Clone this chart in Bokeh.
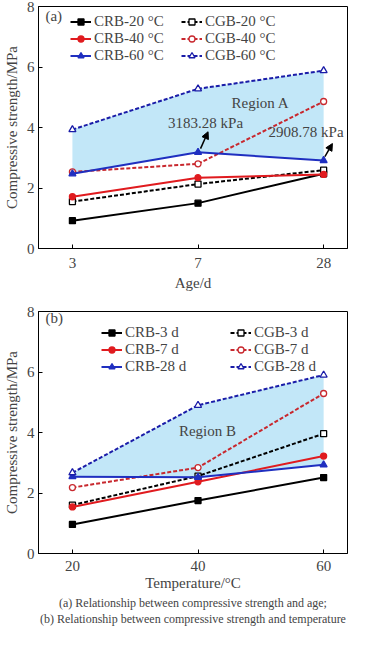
from bokeh.plotting import figure
from bokeh.models import (Legend, LegendItem, Label, Arrow, NormalHead, FixedTicker, Range1d, Title)
from bokeh.layouts import column
from bokeh.embed import file_html
from bokeh.resources import INLINE

# ---------------- data ----------------
ages = ["3", "7", "28"]
crb_20 = [0.92, 1.50, 2.47]
cgb_20 = [1.55, 2.13, 2.59]
crb_40 = [1.71, 2.34, 2.45]
cgb_40 = [2.53, 2.80, 4.86]
crb_60 = [2.47, 3.18, 2.91]
cgb_60 = [3.93, 5.28, 5.88]

temps = ["20", "40", "60"]
crb_3d = [0.96, 1.75, 2.51]
cgb_3d = [1.60, 2.56, 3.96]
crb_7d = [1.54, 2.37, 3.22]
cgb_7d = [2.18, 2.84, 5.29]
crb_28d = [2.54, 2.52, 2.93]
cgb_28d = [2.67, 4.90, 5.90]

yticks = [0, 2, 4, 6, 8]

captions = ["(a) Relationship between compressive strength and age;",
            "(b) Relationship between compressive strength and temperature"]

FONT = "Liberation Serif"
BLACK = "#000000"
RED = "#e01b1f"
RED_D = "#c8282e"
BLUE = "#1f2fc0"
BLUE_D = "#1a1ca8"
FILL = "#c2e7f8"


def make_fig(height, top, bottom, cats, xlabel, lab_standoff, ax_standoff):
    p = figure(width=349, height=height, output_backend="svg", toolbar_location=None,
               x_range=Range1d(-0.27, 2.19), y_range=Range1d(0, 8),
               min_border_left=38, min_border_right=2, min_border_top=top,
               min_border_bottom=bottom)
    p.grid.visible = False
    p.outline_line_color = "black"
    p.outline_line_width = 1
    p.xaxis.ticker = FixedTicker(ticks=[0, 1, 2])
    p.xaxis.major_label_overrides = {i: c for i, c in enumerate(cats)}
    p.yaxis.ticker = FixedTicker(ticks=yticks)
    for ax in (p.xaxis[0], p.yaxis[0]):
        ax.major_tick_in = 4
        ax.major_tick_out = 0
        ax.minor_tick_line_color = None
        ax.major_label_text_font = FONT
        ax.major_label_text_font_size = "15px"
        ax.axis_label_text_font = FONT
        ax.axis_label_text_font_size = "15px"
        ax.axis_label_text_font_style = "normal"
        ax.axis_line_color = "black"
        ax.major_tick_line_color = "black"
    p.xaxis.major_label_standoff = lab_standoff
    p.xaxis.axis_label_standoff = ax_standoff
    p.yaxis.major_label_standoff = 4
    p.yaxis.axis_label_standoff = 4
    p.xaxis.axis_label = xlabel
    p.yaxis.axis_label = "Compressive strength/MPa"
    return p


def add_series(p, x, y, color, marker, filled, dashed):
    lr = p.line(x, y, line_color=color, line_width=2,
                line_dash="4 2" if dashed else "solid")
    sr = p.scatter(x, y, marker=marker, size=7 if marker == "triangle" else 6,
                   line_color=color, line_width=1.3,
                   fill_color=color if filled else "white")
    return [lr, sr]


def add_legends(p, items_left, items_right, xl, xr, ybot, spacing):
    for items, xpos in ((items_left, xl), (items_right, xr)):
        lg = Legend(items=[LegendItem(label=l, renderers=r) for l, r in items],
                    location=(xpos, ybot), orientation="vertical",
                    glyph_width=21, glyph_height=15, label_height=15,
                    label_standoff=3, spacing=spacing, padding=0, margin=0,
                    border_line_alpha=0, background_fill_alpha=0,
                    label_text_font=FONT, label_text_font_size="15px",
                    label_text_baseline="middle")
        p.add_layout(lg, "center")


def txt(p, x, y, s):
    p.add_layout(Label(x=x, y=y, text=s, text_font=FONT, text_font_size="15px",
                       text_baseline="middle", text_align="center"))


xs = [0, 1, 2]

# ---------------- panel (a) ----------------
pa = make_fig(296, 6, 48, ages, "Age/d", 9, 4)
pa.varea(x=xs, y1=crb_60, y2=cgb_60, fill_color=FILL)
r1 = add_series(pa, xs, crb_20, BLACK, "square", True, False)
r2 = add_series(pa, xs, cgb_20, BLACK, "square", False, True)
r3 = add_series(pa, xs, crb_40, RED, "circle", True, False)
r4 = add_series(pa, xs, cgb_40, RED_D, "circle", False, True)
r5 = add_series(pa, xs, crb_60, BLUE, "triangle", True, False)
r6 = add_series(pa, xs, cgb_60, BLUE_D, "triangle", False, True)
add_legends(pa,
            [("CRB-20 °C", r1), ("CRB-40 °C", r3), ("CRB-60 °C", r5)],
            [("CGB-20 °C", r2), ("CGB-40 °C", r4), ("CGB-60 °C", r6)],
            32, 143, 184, -1)
pa.add_layout(Label(x=-0.215, y=7.70, text="(a)", text_font=FONT, text_font_size="15px",
                    text_baseline="middle", text_align="left"))
txt(pa, 1.497, 4.80, "Region A")
txt(pa, 1.06, 4.16, "3183.28 kPa")
txt(pa, 1.86, 3.84, "2908.78 kPa")
pa.add_layout(Arrow(x_start=1.02, y_start=3.30, x_end=1.08, y_end=3.86, line_width=1.5,
                    end=NormalHead(size=7, fill_color="black", line_color="black")))
pa.add_layout(Arrow(x_start=2.01, y_start=3.04, x_end=2.07, y_end=3.47, line_width=1.5,
                    end=NormalHead(size=7, fill_color="black", line_color="black")))

# ---------------- panel (b) ----------------
pb = make_fig(337, 15, 80, temps, "Temperature/°C", 7, 1)
pb.varea(x=xs, y1=crb_28d, y2=cgb_28d, fill_color=FILL)
q1 = add_series(pb, xs, crb_3d, BLACK, "square", True, False)
q2 = add_series(pb, xs, cgb_3d, BLACK, "square", False, True)
q3 = add_series(pb, xs, crb_7d, RED, "circle", True, False)
q4 = add_series(pb, xs, cgb_7d, RED_D, "circle", False, True)
q5 = add_series(pb, xs, crb_28d, BLUE, "triangle", True, False)
q6 = add_series(pb, xs, cgb_28d, BLUE_D, "triangle", False, True)
add_legends(pb,
            [("CRB-3 d", q1), ("CRB-7 d", q3), ("CRB-28 d", q5)],
            [("CGB-3 d", q2), ("CGB-7 d", q4), ("CGB-28 d", q6)],
            63, 192, 178, -2)
pb.add_layout(Label(x=-0.215, y=7.77, text="(b)", text_font=FONT, text_font_size="15px",
                    text_baseline="middle", text_align="left"))
txt(pb, 1.075, 4.05, "Region B")

for c in captions:
    pb.add_layout(Title(text=c, align="center", text_font=FONT, text_font_size="12px",
                        text_font_style="normal", standoff=0, offset=-13), "below")

layout = column(pa, pb, spacing=0)
open("out.html", "w").write(file_html(layout, INLINE))
